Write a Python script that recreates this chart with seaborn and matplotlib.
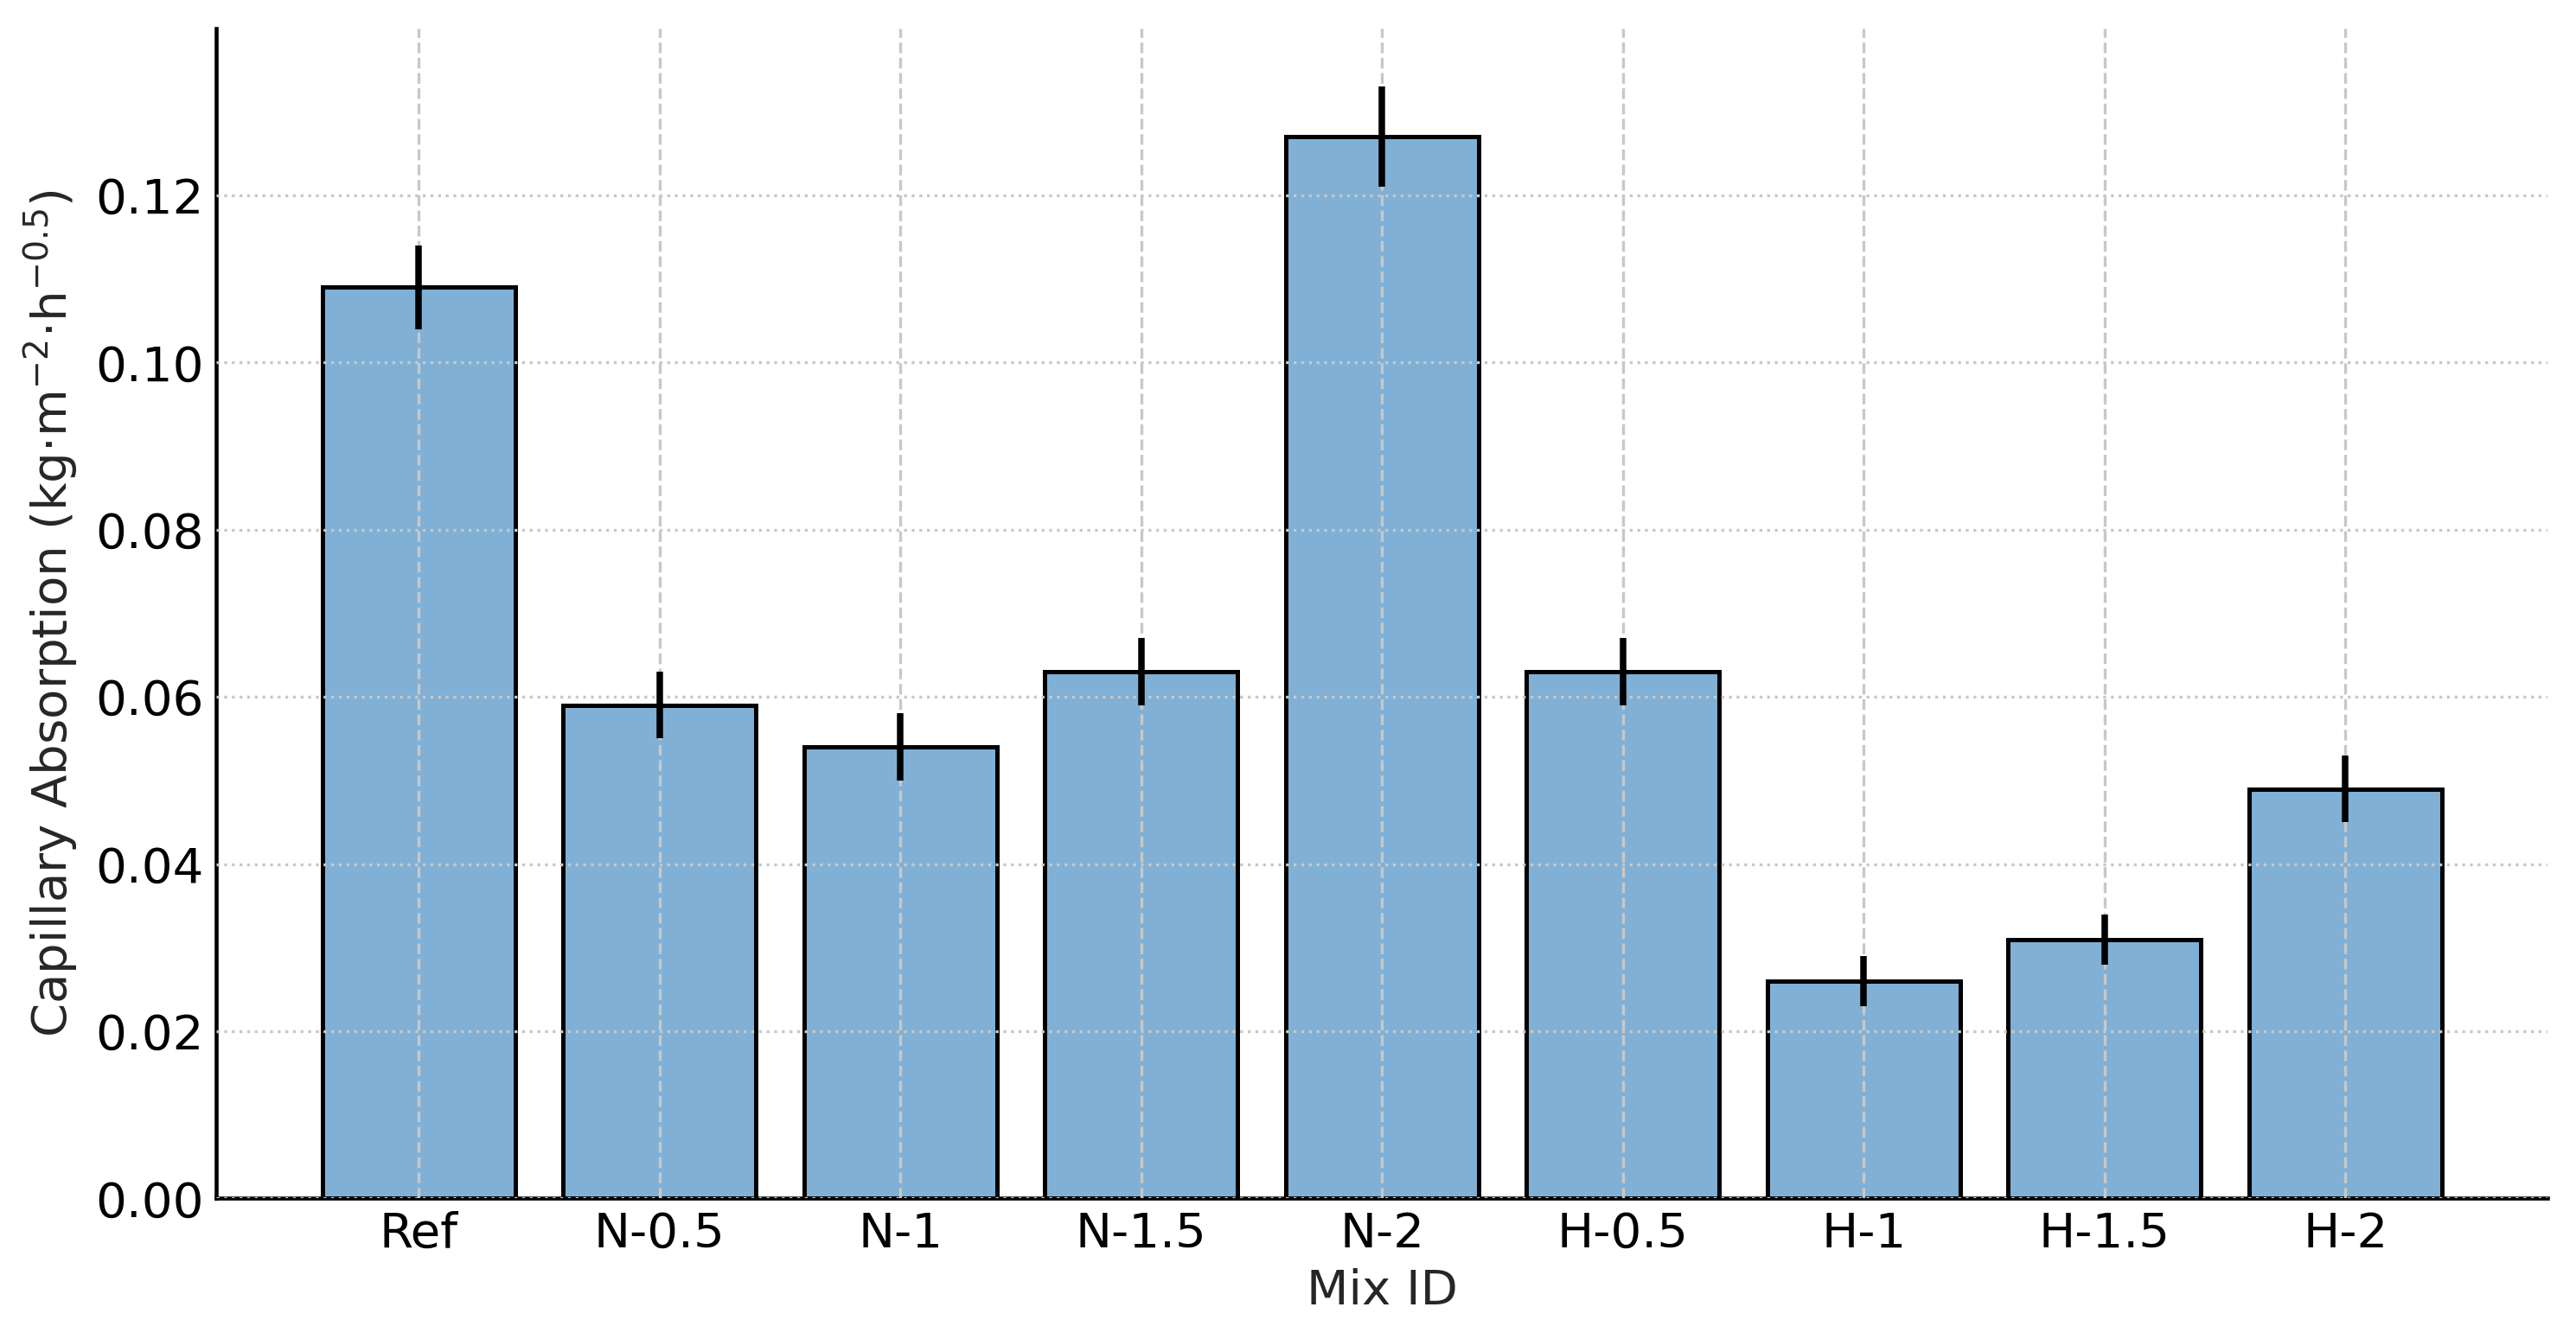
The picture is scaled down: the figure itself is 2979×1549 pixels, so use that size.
import pandas as pd
import seaborn as sns
import matplotlib.pyplot as plt
import numpy as np

# Capillary absorption per mix
mixes = ['Ref', 'N-0.5', 'N-1', 'N-1.5', 'N-2', 'H-0.5', 'H-1', 'H-1.5', 'H-2']
absorption = [0.109, 0.059, 0.054, 0.063, 0.127, 0.063, 0.026, 0.031, 0.049]
errors = [0.005, 0.004, 0.004, 0.004, 0.006, 0.004, 0.003, 0.003, 0.004]

df = pd.DataFrame({'Mix ID': mixes, 'Absorption': absorption, 'err': errors})

sns.set_style('white')
plt.rcParams['font.family'] = ['DejaVu Sans']
plt.rcParams['font.size'] = 13.5

fig, ax = plt.subplots(figsize=(2979 / 300, 1549 / 300), dpi=300)
fig.subplots_adjust(left=0.084, right=0.989, bottom=0.105, top=0.979)

sns.barplot(data=df, x='Mix ID', y='Absorption', color='#80b0d5', saturation=1,
            edgecolor='black', linewidth=1.2, width=0.8, ax=ax, errorbar=None)
ax.errorbar(np.arange(len(mixes)), df['Absorption'], yerr=df['err'], fmt='none',
            ecolor='black', elinewidth=1.8, capsize=0, zorder=3)

ax.set_xlim(-0.84, len(mixes) - 1 + 0.84)
ax.set_ylim(0, 0.14)
ax.set_yticks([0.00, 0.02, 0.04, 0.06, 0.08, 0.10, 0.12])
ax.set_yticklabels(['0.00', '0.02', '0.04', '0.06', '0.08', '0.10', '0.12'])

ax.grid(axis='y', linestyle=':', color='#c8c8c8', linewidth=0.8)
ax.grid(axis='x', linestyle='--', color='#c8c8c8', linewidth=0.8)
ax.set_axisbelow(False)
for bar in ax.patches:
    bar.set_zorder(1)

for s in ['top', 'right']:
    ax.spines[s].set_visible(False)
for s in ['left', 'bottom']:
    ax.spines[s].set_linewidth(1.1)
    ax.spines[s].set_color('black')
ax.tick_params(direction='in', length=4, width=1.0, colors='black')

ax.set_xlabel('Mix ID', labelpad=3)
ax.set_ylabel('Capillary Absorption (kg·m$^{-2}$·h$^{-0.5}$)')

plt.savefig('out.png', dpi=300)
